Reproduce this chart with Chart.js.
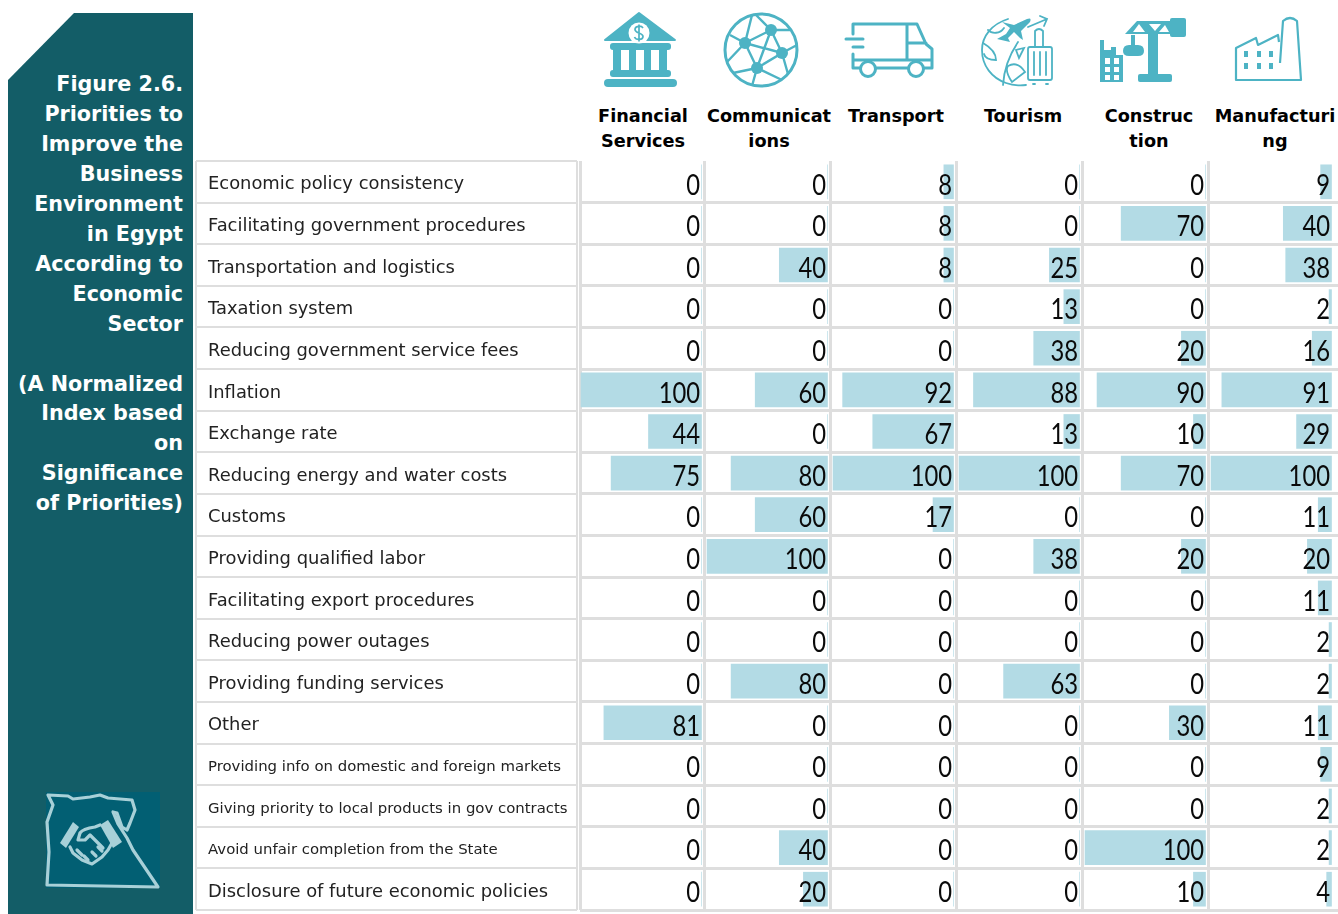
<!DOCTYPE html>
<html>
<head>
<meta charset="utf-8">
<script src="https://cdn.jsdelivr.net/npm/chart.js@4/dist/chart.umd.min.js"></script>
<style>
  html, body { margin: 0; padding: 0; background: #fff; overflow: hidden; }
  body { width: 1338px; height: 914px; position: relative; font-family: "DejaVu Sans", sans-serif; }
  #art { position: absolute; left: 0; top: 0; }
  canvas { position: absolute; }
  #side-title {
    position: absolute; left: 8px; top: 70px; width: 175px;
    color: #fff; font: bold 20.7px/29.96px "DejaVu Sans", sans-serif; text-align: right;
  }
  .head {
    position: absolute; top: 104px; width: 140px; text-align: center;
    color: #000; font: bold 17.7px/25px "DejaVu Sans", sans-serif; white-space: nowrap;
  }
</style>
</head>
<body>
<svg id="art" width="1338" height="914" xmlns="http://www.w3.org/2000/svg">
  <polygon points="74,13 193,13 193,914 8,914 8,80" fill="#135d67"/>

  <!-- Bank -->
  <g fill="#4db3c4">
    <path d="M605 40 L639 13 L675 40 Z" stroke="#4db3c4" stroke-width="2" stroke-linejoin="round"/>
    <rect x="610" y="43" width="61" height="7" rx="3"/>
    <rect x="613" y="50" width="8" height="20"/><rect x="629" y="50" width="7" height="20"/>
    <rect x="644" y="50" width="7" height="20"/><rect x="659" y="50" width="8" height="20"/>
    <rect x="610" y="70" width="61" height="7" rx="3"/>
    <rect x="604" y="79" width="73" height="8" rx="4"/>
  </g>
  <circle cx="639" cy="33" r="10.5" fill="#fff"/>
  <path d="M643 28 C641 25 635 26 635 29.5 C635 33.5 643 32.5 643 36.5 C643 40 636 40.5 634.5 37 M639 24.5 V41.5" fill="none" stroke="#4db3c4" stroke-width="1.7"/>

  <!-- Globe -->
  <g fill="none" stroke="#4db3c4" stroke-width="2.4">
    <circle cx="761" cy="50" r="36" stroke-width="3"/>
    <path d="M745 43 L771 30 L782 53 L757 68 L745 43 M771 30 L757 68 M745 43 L782 53"/>
    <path d="M745 43 L730 35 M745 43 L727 62 M745 43 L752 15 M771 30 L755 14 M771 30 L790 30 M782 53 L797 45 M782 53 L788 74 M757 68 L733 73 M757 68 L752 86 M757 68 L782 80"/>
  </g>
  <g fill="#4db3c4">
    <circle cx="745" cy="43" r="6"/><circle cx="771" cy="30" r="6"/><circle cx="782" cy="53" r="6"/><circle cx="757" cy="68" r="6"/>
  </g>

  <!-- Truck -->
  <g fill="none" stroke="#4db3c4" stroke-width="3" stroke-linecap="round" stroke-linejoin="round">
    <path d="M853 34 V24 H917 L926 44 L932 49 V68 H925 M853 54 V68 H859 M877 68 H907 M907 24 V60 M907 43 H926 M853 60 H932"/>
    <circle cx="868" cy="69" r="7.5"/><circle cx="916" cy="69" r="7.5"/>
    <path d="M846 39 H863 M853 47 H863"/>
  </g>

  <!-- Tourism -->
  <g fill="none" stroke="#4db3c4" stroke-width="1.8" stroke-linecap="round">
    <path d="M1008 19 C992 24 982 36 982 50 C982 66 992 78 1006 83 C1012 85 1019 86 1026 85"/>
    <path d="M1003 85 C1004 68 1010 54 1018 42 M1028 27 L1047 19 M1040 16 L1047 19 L1044 26"/>
    <rect x="1028" y="47" width="24" height="33" rx="2"/>
    <path d="M1035 47 V31 Q1039 27 1043 31 V47 M1034 52 V75 M1040 52 V75 M1046 52 V75 M1033 84 H1035 M1046 84 H1048"/>
    <path d="M983 43 C990 47 996 52 996 60 C990 60 985 58 984 54 M988 30 C992 34 1000 34 1004 28 M1008 66 C1015 62 1021 66 1025 72 L1012 82 C1008 76 1005 70 1008 66 M1016 50 L1024 48 L1019 58 Z"/>
  </g>
  <path d="M1002 22 L1014 25 L1027 19 Q1032 17 1030 22 L1021 31 L1023 40 L1020 38 L1014 32 L1008 38 L1010 42 L997 39 L1006 34 L1010 28 Z" fill="#4db3c4"/>

  <!-- Crane -->
  <g fill="#4db3c4">
    <rect x="1148" y="33" width="10" height="42"/>
    <rect x="1138" y="74" width="34" height="8" rx="2"/>
    <path d="M1125 34 L1137 21 H1170 V34 Z"/>
    <rect x="1170" y="18" width="16" height="19" rx="2"/>
    <rect x="1131" y="35" width="4" height="10"/>
    <path d="M1123 51 Q1123 45 1129 45 H1138 Q1144 45 1144 51 Q1144 56 1138 56 H1129 Q1123 56 1123 51 Z"/>
    <path d="M1100 40 H1104 V50 H1111 V47 H1116 V55 H1123 V82 H1100 Z"/>
  </g>
  <g fill="#fff">
    <polygon points="1133,32 1139,24 1145,32"/><polygon points="1149,24 1161,24 1155,31"/><polygon points="1159,32 1165,25 1169,32"/>
    <rect x="1105" y="58" width="5" height="6"/><rect x="1114" y="58" width="5" height="6"/>
    <rect x="1105" y="67" width="5" height="5"/><rect x="1114" y="67" width="5" height="5"/>
    <rect x="1105" y="75" width="5" height="5"/><rect x="1114" y="75" width="5" height="5"/>
  </g>

  <!-- Factory -->
  <g fill="none" stroke="#4db3c4" stroke-width="2.2" stroke-linejoin="round">
    <path d="M1280 63 L1283 21 Q1290 15 1297 21 L1301 80 H1236 V48 L1256 38 L1258 45 L1278 35 L1279 42"/>
  </g>
  <g fill="#4db3c4">
    <rect x="1244" y="51" width="4" height="6"/><rect x="1257" y="51" width="4" height="6"/><rect x="1269" y="51" width="4" height="6"/>
    <rect x="1244" y="63" width="4" height="6"/><rect x="1257" y="63" width="4" height="6"/><rect x="1269" y="63" width="4" height="6"/>
  </g>

  <!-- Map with handshake -->
  <rect x="46" y="792" width="114" height="96" fill="#025f73"/>
  <g fill="none" stroke="#a8d0d8" stroke-width="3.2" stroke-linejoin="round" stroke-linecap="round">
    <path d="M48 795 L68 796 L73 799 L90 797 L100 795 L108 798 L132 800 L135 810 L130 823 L127 830 L122 827 L117 813 L113 812 L118 824 L127 838 L133 850 L158 887 L47 885 L49 852 L47 822 L53 805 Z"/>
    <path d="M100 825 L95 827 C88 828 82 830 80 833 L78 840 L85 840 L90 835 L103 848 M70 847 L73 853 L82 860 L92 864 L102 857 L108 850 L112 843"/>
    <path d="M77 850 L82 855 M84 856 L88 860 M96 856 L92 852 M102 851 L98 847"/>
  </g>
  <g fill="#a8d0d8">
    <polygon points="60,843 73,822 79,827 66,848"/>
    <polygon points="100,825 108,820 122,842 113,848"/>
  </g>
</svg>

<div id="side-title">Figure 2.6.<br>Priorities to<br>Improve the<br>Business<br>Environment<br>in Egypt<br>According to<br>Economic<br>Sector<br>&nbsp;<br>(A Normalized<br>Index based<br>on<br>Significance<br>of Priorities)</div>

<div class="head" style="left:573px">Financial<br>Services</div>
<div class="head" style="left:699px">Communicat<br>ions</div>
<div class="head" style="left:826px">Transport</div>
<div class="head" style="left:953px">Tourism</div>
<div class="head" style="left:1079px">Construc<br>tion</div>
<div class="head" style="left:1205px">Manufacturi<br>ng</div>

<script>
const rowLabels = [
  "Economic policy consistency",
  "Facilitating government procedures",
  "Transportation and logistics",
  "Taxation system",
  "Reducing government service fees",
  "Inflation",
  "Exchange rate",
  "Reducing energy and water costs",
  "Customs",
  "Providing qualified labor",
  "Facilitating export procedures",
  "Reducing power outages",
  "Providing funding services",
  "Other",
  "Providing info on domestic and foreign markets",
  "Giving priority to local products in gov contracts",
  "Avoid unfair completion from the State",
  "Disclosure of future economic policies",
];

const financialServices = [0, 0, 0, 0, 0, 100, 44, 75, 0, 0, 0, 0, 0, 81, 0, 0, 0, 0];
const communications = [0, 0, 40, 0, 0, 60, 0, 80, 60, 100, 0, 0, 80, 0, 0, 0, 40, 20];
const transport = [8, 8, 8, 0, 0, 92, 67, 100, 17, 0, 0, 0, 0, 0, 0, 0, 0, 0];
const tourism = [0, 0, 25, 13, 38, 88, 13, 100, 0, 38, 0, 0, 63, 0, 0, 0, 0, 0];
const construction = [0, 70, 0, 0, 20, 90, 10, 70, 0, 20, 0, 0, 0, 30, 0, 0, 100, 10];
const manufacturing = [9, 40, 38, 2, 16, 91, 29, 100, 11, 20, 11, 2, 2, 11, 9, 2, 2, 4];

const gridColor = "#dedede";
const barColor = "#b3dbe5";
const smallRows = [14, 15, 16];
const tableTop = 161;
const tableHeight = 749;
const pad = 2;

function addCanvas(left, width) {
  const c = document.createElement("canvas");
  c.width = width + pad * 2;
  c.height = tableHeight + pad * 2;
  c.style.left = left - pad + "px";
  c.style.top = tableTop - pad + "px";
  document.body.appendChild(c);
  return c;
}

// numbers sit on the right end of every cell, squeezed a bit like the original font
const valueLabels = {
  id: "valueLabels",
  afterDatasetsDraw(chart) {
    const ctx = chart.ctx;
    const meta = chart.getDatasetMeta(0);
    const zero = chart.scales.x.getPixelForValue(0);
    ctx.save();
    ctx.fillStyle = "#0a0a0a";
    ctx.font = "29px Lato";
    ctx.textAlign = "right";
    ctx.textBaseline = "middle";
    meta.data.forEach((bar, i) => {
      ctx.save();
      ctx.translate(zero - 1.5, bar.y + 3.4);
      ctx.scale(0.82, 1);
      ctx.fillText(String(chart.data.datasets[0].data[i]), 0, 0);
      ctx.restore();
    });
    ctx.restore();
  },
};

// label column, empty chart used for its category axis and grid
new Chart(addCanvas(196, 381), {
  type: "bar",
  data: { labels: rowLabels, datasets: [{ data: [] }] },
  options: {
    indexAxis: "y",
    responsive: false,
    animation: false,
    layout: { padding: pad },
    plugins: { legend: { display: false }, tooltip: { enabled: false } },
    scales: {
      x: {
        min: 0,
        max: 1,
        afterBuildTicks: (s) => { s.ticks = [{ value: 0 }, { value: 1 }]; },
        ticks: { display: false },
        border: { display: false },
        grid: { color: gridColor, lineWidth: 2, drawTicks: false },
      },
      y: {
        offset: true,
        afterFit: (s) => { s.width = 0; s.paddingTop = 0; s.paddingBottom = 0; },
        ticks: {
          mirror: true,
          padding: 12,
          labelOffset: 3,
          autoSkip: false,
          color: "#222",
          font: (ctx) => ({ family: "DejaVu Sans", size: smallRows.includes(ctx.index) ? 14.9 : 17.9 }),
        },
        border: { display: false },
        grid: { offset: true, color: gridColor, lineWidth: 2, drawTicks: false },
      },
    },
  },
});

function columnChart(values, left, width, xMin, xMax, lines) {
  new Chart(addCanvas(left, width), {
    type: "bar",
    data: {
      labels: rowLabels,
      datasets: [{ data: values, backgroundColor: barColor, barThickness: 34, borderWidth: 0 }],
    },
    options: {
      indexAxis: "y",
      responsive: false,
      animation: false,
      layout: { padding: pad },
      plugins: { legend: { display: false }, tooltip: { enabled: false } },
      scales: {
        x: {
          reverse: true,
          min: xMin,
          max: xMax,
          afterBuildTicks: (s) => { s.ticks = lines.map((v) => ({ value: v })); },
          ticks: { display: false },
          border: { display: false },
          grid: { color: gridColor, lineWidth: 3, drawTicks: false },
        },
        y: {
          offset: true,
          ticks: { display: false, autoSkip: false },
          border: { display: false },
          grid: {
            offset: true,
            lineWidth: 3,
            drawTicks: false,
            color: (ctx) => (ctx.index === 0 ? "transparent" : gridColor),
          },
        },
      },
    },
    plugins: [valueLabels],
  });
}

columnChart(financialServices, 580, 124, -2.07, 100.83, [-2.07, 100.83]);
columnChart(communications, 704, 126, -2.07, 102.5, [-2.07]);
columnChart(transport, 830, 126, -2.07, 102.5, [-2.07]);
columnChart(tourism, 956, 126, -2.07, 102.5, [-2.07]);
columnChart(construction, 1082, 126, -2.07, 102.5, [-2.07]);
columnChart(manufacturing, 1208, 130, -5.4, 102.5, []);
</script>
</body>
</html>
